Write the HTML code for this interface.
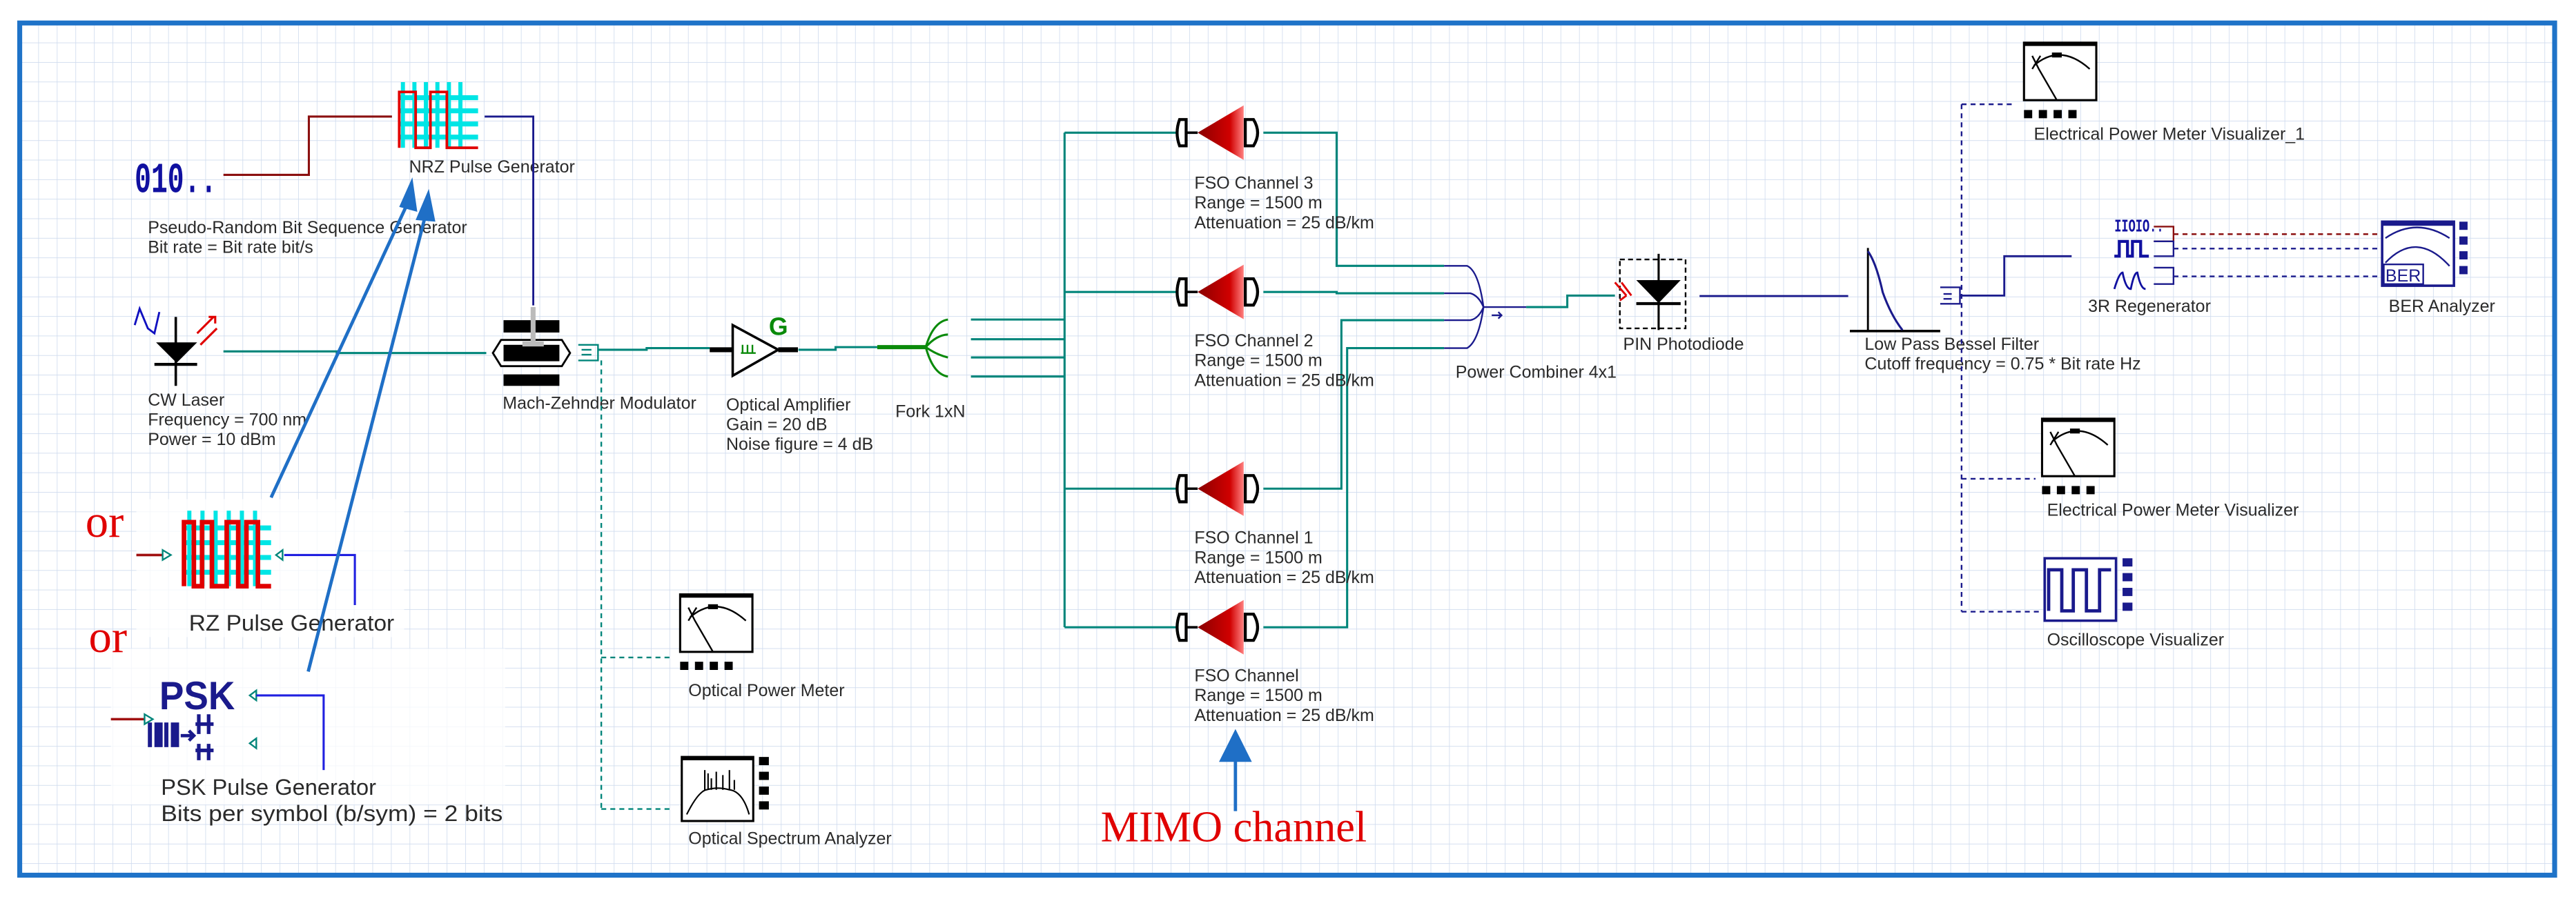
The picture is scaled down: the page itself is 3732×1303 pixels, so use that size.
<!DOCTYPE html>
<html><head><meta charset="utf-8"><style>
html,body{margin:0;padding:0;background:#fff;}
svg{display:block;}
text{font-family:"Liberation Sans",sans-serif;}
.l{font-size:10.5px;fill:#2a2a2a;}
.t{stroke:#00857a;stroke-width:1.3;fill:none;}
.n{stroke:#1a1a8c;stroke-width:1.2;fill:none;}
.dt{stroke:#00857a;stroke-width:1;fill:none;stroke-dasharray:3,2.5;}
.dn{stroke:#1a1a8c;stroke-width:1;fill:none;stroke-dasharray:3,2.5;}
.ba{stroke:#1f6fc6;stroke-width:2;fill:none;}
</style></head><body>
<svg width="3732" height="1303" viewBox="0 0 1568 547.5" preserveAspectRatio="none" xmlns="http://www.w3.org/2000/svg">
<defs>
<pattern id="g" x="12" y="14" width="11.3" height="11.9" patternUnits="userSpaceOnUse">
<path d="M0 0H11.3M0 0V11.9" stroke="#cfdbee" stroke-width="0.7" fill="none"/>
</pattern>
<linearGradient id="rg" x1="0" y1="0" x2="1" y2="0">
<stop offset="0" stop-color="#8a0000"/><stop offset="0.7" stop-color="#d00000"/><stop offset="1" stop-color="#ff8080"/>
</linearGradient>
<g id="fso">
<path d="M722,-8 H718 Q715,0 718,8 H722 Z" fill="#fff" stroke="#000" stroke-width="1.8"/>
<line x1="722" y1="0" x2="729" y2="0" stroke="#000" stroke-width="1.5"/>
<polygon points="729,0 757,-16.6 757,16.6" fill="url(#rg)"/>
<path d="M758,-8 H763 Q768,0 763,8 H758 Z" fill="#fff" stroke="#000" stroke-width="1.8"/>
</g>
<g id="meter">
<rect x="0" y="0" width="44" height="35" fill="#fff" stroke="#000" stroke-width="1.3"/>
<rect x="0" y="0" width="44" height="2" fill="#000"/>
<path d="M6,14 Q22,0 40,16" stroke="#000" stroke-width="1" fill="none"/>
<rect x="17" y="6" width="6" height="3" fill="#000"/>
<path d="M5,8 L9,16 L20,35 M5,16 L10,8" stroke="#000" stroke-width="1" fill="none"/>
<rect x="0" y="41" width="5" height="5" fill="#000"/><rect x="9" y="41" width="5" height="5" fill="#000"/>
<rect x="18" y="41" width="5" height="5" fill="#000"/><rect x="27" y="41" width="5" height="5" fill="#000"/>
</g>
</defs>
<rect x="0" y="0" width="1568" height="547.5" fill="#fff"/>
<rect x="12" y="14" width="1543" height="519" fill="url(#g)"/>
<rect x="12" y="14" width="1543" height="519" fill="none" stroke="#1f73c8" stroke-width="3"/>

<!-- PRBS -->
<text x="82" y="117" style="font-family:'Liberation Mono',monospace;font-weight:bold" font-size="26" fill="#1010a0" textLength="50" lengthAdjust="spacingAndGlyphs">010..</text>
<path d="M136,106.5 H188 V71 H238.6" stroke="#8b1010" stroke-width="1.3" fill="none"/>
<text class="l" x="90" y="142">Pseudo-Random Bit Sequence Generator</text>
<text class="l" x="90" y="154">Bit rate = Bit rate  bit/s</text>
<!-- NRZ -->
<g>
<g fill="#00e5e5">
<rect x="244" y="50" width="2.5" height="40"/><rect x="251" y="50" width="2.5" height="40"/><rect x="258" y="50" width="2.5" height="40"/><rect x="265" y="50" width="2.5" height="40"/><rect x="272" y="50" width="2.5" height="40"/><rect x="279" y="50" width="2.5" height="40"/>
<rect x="243" y="58" width="48" height="3"/><rect x="243" y="66" width="48" height="3"/><rect x="243" y="74" width="48" height="3"/><rect x="243" y="82" width="48" height="3"/>
</g>
<path d="M243,90 V56 H253 V90 H262 V56 H272 V90 H291" stroke="#e00000" stroke-width="1.6" fill="none"/>
</g>
<text class="l" x="249" y="105">NRZ Pulse Generator</text>
<path d="M295,71 H324.6 V186" class="n"/>
<!-- CW laser -->
<path d="M82,198 L85,188 L90,200 L94,203 L97,190" stroke="#1010c0" stroke-width="1.2" fill="none"/>
<line x1="107" y1="193" x2="107" y2="235" stroke="#000" stroke-width="1.5"/>
<polygon points="95,208.5 120,208.5 107.5,221" fill="#000"/>
<rect x="94" y="221" width="26" height="1.8" fill="#000"/>
<path d="M120,203 L130,193 M127,193 H131 V197 M122,210 L132,200" stroke="#e00000" stroke-width="1.3" fill="none"/>
<path d="M136,214 H205 V215 H296" class="t"/>
<text class="l" x="90" y="247">CW Laser</text>
<text class="l" x="90" y="259">Frequency = 700  nm</text>
<text class="l" x="90" y="271">Power = 10  dBm</text>
<!-- MZM -->
<rect x="306.5" y="195" width="34" height="7.5" fill="#000"/>
<path d="M300,215 L305,207 H342 L347,215 L342,223 H305 Z" fill="#fff" stroke="#000" stroke-width="1.2"/>
<rect x="306.5" y="210" width="34" height="10" fill="#000"/>
<rect x="306.5" y="228" width="34" height="7" fill="#000"/>
<rect x="323" y="187" width="3" height="23" fill="#bbb"/>
<rect x="318" y="208" width="13" height="3" fill="#bbb"/>
<path d="M352,210 H364 V219.5 H352 M354,213 H360 M354,216 H360" stroke="#00857a" stroke-width="1" fill="none"/>
<text class="l" x="306" y="249">Mach-Zehnder Modulator</text>
<path d="M364,213 H393.6 V212 H432" class="t"/>
<line x1="366" y1="219.5" x2="366" y2="493" class="dt"/>
<!-- amplifier -->
<rect x="432" y="211.5" width="14" height="3" fill="#000"/>
<polygon points="446,198 446,228.8 473.7,213" fill="#fff" stroke="#000" stroke-width="1.5"/>
<rect x="473.7" y="211.5" width="12" height="3" fill="#000"/>
<text x="468" y="204" font-size="15" style="font-weight:bold" fill="#0a8a0a">G</text>
<path d="M451,215 H460 M452,210 V215 M455,210 V215 M458,210 V215" stroke="#0a8a0a" stroke-width="1" fill="none"/>
<text class="l" x="442" y="250">Optical Amplifier</text>
<text class="l" x="442" y="262">Gain = 20  dB</text>
<text class="l" x="442" y="274">Noise figure = 4  dB</text>
<path d="M486,213 H508.6 V211.4 H534" class="t"/>
<!-- fork -->
<path d="M534,211.4 H563.5" stroke="#0a8a0a" stroke-width="2.5"/>
<path d="M563.5,211.4 Q568,196 577,194.6 M563.5,211.4 Q570,204 577,203.7 M563.5,211.4 Q570,216 577,217.7 M563.5,211.4 Q568,228 577,229.3" stroke="#0a8a0a" stroke-width="1.3" fill="none"/>
<text class="l" x="545" y="254">Fork 1xN</text>
<path d="M591,194.6 H648 M591,206.6 H648 M591,217.7 H648 M591,229.3 H648 M648,80.8 V382 M648,80.8 H716 M648,177.8 H716 M648,297.6 H716 M648,382 H716" class="t"/>
<!-- FSO channels -->
<use href="#fso" transform="translate(0,80.8)"/>
<use href="#fso" transform="translate(0,177.8)"/>
<use href="#fso" transform="translate(0,297.6)"/>
<use href="#fso" transform="translate(0,382)"/>
<path d="M769,80.8 H813.6 V161.9 H879 M769,177.8 H813.6 V178.6 H879 M769,297.6 H816.5 V195 H879 M769,382 H820 V212 H879" class="t"/>
<g class="l">
<text x="727" y="115">FSO Channel  3</text><text x="727" y="127">Range = 1500  m</text><text x="727" y="139">Attenuation = 25  dB/km</text>
<text x="727" y="211">FSO Channel  2</text><text x="727" y="223">Range = 1500  m</text><text x="727" y="235">Attenuation = 25  dB/km</text>
<text x="727" y="331">FSO Channel  1</text><text x="727" y="343">Range = 1500  m</text><text x="727" y="355">Attenuation = 25  dB/km</text>
<text x="727" y="415">FSO Channel</text><text x="727" y="427">Range = 1500  m</text><text x="727" y="439">Attenuation = 25  dB/km</text>
</g>
<!-- combiner -->
<path d="M879,161.9 H893 Q900,165 903,187 M879,178.6 H895 Q900,180 903,187 M879,195 H895 Q900,194 903,187 M879,212 H893 Q900,208 903,187" stroke="#1a1a8c" stroke-width="1" fill="none"/>
<path d="M903,187 H929" stroke="#1a1a8c" stroke-width="1"/>
<path d="M908,192 H914 M912,190 L914,192 L912,194" stroke="#1a1a8c" stroke-width="1" fill="none"/>
<path d="M929,187 H954 V180 H983" class="t"/>
<text class="l" x="886" y="230">Power Combiner 4x1</text>
<!-- PIN -->
<rect x="986" y="158" width="40" height="42" fill="none" stroke="#000" stroke-width="1" stroke-dasharray="3,2"/>
<line x1="1009.6" y1="154.6" x2="1009.6" y2="201" stroke="#000" stroke-width="1.3"/>
<polygon points="996,170.6 1023,170.6 1009.6,184.6" fill="#000"/>
<rect x="996" y="184" width="27" height="1.8" fill="#000"/>
<path d="M983,172 L990,180 M987,172 L993,180 M990,180 L986,183" stroke="#e00000" stroke-width="1.2" fill="none"/>
<text class="l" x="988" y="213">PIN Photodiode</text>
<path d="M1034.5,180.3 H1125" class="n"/>
<!-- Bessel -->
<line x1="1137" y1="151" x2="1137" y2="201.6" stroke="#000" stroke-width="1.2"/>
<line x1="1126" y1="201.6" x2="1181" y2="201.6" stroke="#000" stroke-width="1.5"/>
<path d="M1137,153 Q1142,160 1146,178 Q1151,192 1158,201" stroke="#1a1a8c" stroke-width="1.3" fill="none"/>
<path d="M1181,175 H1193 V185 H1181 M1183,179 H1188 M1183,182 H1188" stroke="#1a1a8c" stroke-width="1" fill="none"/>
<text class="l" x="1135" y="213">Low Pass Bessel Filter</text>
<text class="l" x="1135" y="225">Cutoff frequency = 0.75 * Bit rate  Hz</text>
<path d="M1194,63.5 V372.5 M1194,63.5 H1227 M1194,291.6 H1239 M1194,372.5 H1241" class="dn"/>
<path d="M1193,180 H1220 V156 H1261" class="n"/>
<!-- meters -->
<use href="#meter" transform="translate(1232,26)"/>
<text class="l" x="1238" y="85">Electrical Power Meter Visualizer_1</text>
<use href="#meter" transform="translate(1243,255)"/>
<text class="l" x="1246" y="314">Electrical Power Meter Visualizer</text>
<use href="#meter" transform="translate(414,362)"/>
<text class="l" x="419" y="424">Optical Power Meter</text>
<path d="M366,400.4 H409 M366,492.7 H409" class="dt"/>
<!-- OSA -->
<rect x="415" y="461" width="43.5" height="39" fill="#fff" stroke="#000" stroke-width="1.3"/>
<rect x="415" y="461" width="43.5" height="2" fill="#000"/>
<path d="M418,496 Q425,482 430,481 Q437,479 444,481 Q452,482 456,496 M429,481 V469 M431,481 V471 M433,481 V474 M436,481 V470 M440,481 V472 M444,481 V469 M447,481 V475" stroke="#000" stroke-width="0.9" fill="none"/>
<g fill="#000"><rect x="462" y="461" width="6" height="5"/><rect x="462" y="470" width="6" height="5"/><rect x="462" y="479" width="6" height="5"/><rect x="462" y="488" width="6" height="5"/></g>
<text class="l" x="419" y="514">Optical Spectrum Analyzer</text>
<!-- 3R -->
<text x="1287" y="141" style="font-family:'Liberation Mono',monospace;font-weight:bold" font-size="11" fill="#1010a0" textLength="30" lengthAdjust="spacingAndGlyphs">IIOIO..</text>
<path d="M1287,156 H1290 V147 H1295 V156 H1298 V147 H1303 V156 H1308" stroke="#1010a0" stroke-width="1.8" fill="none"/>
<path d="M1287,176 Q1290,166 1292,166 Q1294,176 1297,176 Q1299,166 1301,166 Q1303,176 1306,176" stroke="#1010a0" stroke-width="1.2" fill="none"/>
<path d="M1311,138 H1323 V147 H1311" stroke="#8b1010" stroke-width="1" fill="none"/>
<path d="M1311,147 H1323 V156 H1311 M1311,163 H1323 V173 H1311" stroke="#1a1a8c" stroke-width="1" fill="none"/>
<text class="l" x="1271" y="190">3R Regenerator</text>
<path d="M1323,142.6 H1447" stroke="#8b1010" stroke-width="1" stroke-dasharray="3,2.5" fill="none"/>
<path d="M1323,151.4 H1447 M1323,168.3 H1447" class="dn"/>
<!-- BER -->
<rect x="1450" y="135" width="43.7" height="39" fill="#fff" stroke="#1a1a8c" stroke-width="1.5"/>
<rect x="1450" y="135" width="43.7" height="2.5" fill="#1a1a8c"/>
<path d="M1452,145 Q1471,132 1491,145 M1452,160 Q1471,140 1491,162" stroke="#1a1a8c" stroke-width="1" fill="none"/>
<rect x="1451" y="161" width="24" height="12" fill="#fff" stroke="#1a1a8c" stroke-width="1"/>
<text x="1452" y="171.5" font-size="10.5" fill="#1a1a8c">BER</text>
<g fill="#1a1a8c"><rect x="1497" y="135" width="5" height="5"/><rect x="1497" y="144" width="5" height="5"/><rect x="1497" y="153" width="5" height="5"/><rect x="1497" y="162" width="5" height="5"/></g>
<text class="l" x="1454" y="190">BER Analyzer</text>
<!-- oscilloscope -->
<rect x="1244.6" y="340" width="43.4" height="38" fill="#fff" stroke="#1a1a8c" stroke-width="1.5"/>
<path d="M1247,372 V347 H1255 V372 H1262 V347 H1270 V372 H1278 V347 H1285" stroke="#1a1a8c" stroke-width="2" fill="none"/>
<g fill="#1a1a8c"><rect x="1292" y="340" width="6" height="5"/><rect x="1292" y="349" width="6" height="5"/><rect x="1292" y="358" width="6" height="5"/><rect x="1292" y="367" width="6" height="5"/></g>
<text class="l" x="1246" y="393">Oscilloscope Visualizer</text>

<!-- RZ block -->
<rect x="83" y="304" width="163" height="84" fill="#fff" opacity="0.75"/>
<g fill="#00e5e5">
<rect x="114" y="311" width="2.5" height="46"/><rect x="122" y="311" width="2.5" height="46"/><rect x="130" y="311" width="2.5" height="46"/><rect x="138" y="311" width="2.5" height="46"/><rect x="146" y="311" width="2.5" height="46"/><rect x="154" y="311" width="2.5" height="46"/>
<rect x="111" y="320" width="54" height="3"/><rect x="111" y="329" width="54" height="3"/><rect x="111" y="338" width="54" height="3"/><rect x="111" y="347" width="54" height="3"/>
</g>
<path d="M112,357 V318 H118 V357 H123 V318 H129 V357 H138 V318 H145 V357 H150 V318 H157 V357 H165" stroke="#e00000" stroke-width="2.8" fill="none"/>
<path d="M83,338 H99" stroke="#a01010" stroke-width="1.5"/>
<path d="M99,335 L104,338 L99,341 Z M168,338 L172,335 V341 Z" fill="#fff" stroke="#00857a" stroke-width="1"/>
<path d="M173,338 H216 V368.5" stroke="#2020e0" stroke-width="1.3" fill="none"/>
<text x="115" y="384" font-size="13.5" fill="#2a2a2a" textLength="125" lengthAdjust="spacingAndGlyphs">RZ Pulse Generator</text>
<!-- PSK block -->
<rect x="67.5" y="395" width="240" height="95" fill="#fff" opacity="0.75"/>
<text x="97" y="432" font-size="24" style="font-weight:bold" fill="#1a1a8c" textLength="46" lengthAdjust="spacingAndGlyphs">PSK</text>
<g fill="#1a1a8c"><rect x="90" y="440" width="2.5" height="15"/><rect x="94" y="440" width="5" height="15"/><rect x="100" y="440" width="2.5" height="15"/><rect x="104" y="440" width="5" height="15"/></g>
<path d="M110,448 H117 M115,445 L118,448 L115,451" stroke="#1a1a8c" stroke-width="2" fill="none"/>
<path d="M121,435 V447 M127,435 V447 M119,441 H130 M121,453 V463 M127,453 V463 M119,457 H130" stroke="#1a1a8c" stroke-width="2.2" fill="none"/>
<path d="M67.5,438 H88" stroke="#a01010" stroke-width="1.5"/>
<path d="M88,435 L93,438 L88,441 Z M152,423.5 L156,420.5 V426.5 Z M152,452.7 L156,449.7 V455.7 Z" fill="#fff" stroke="#00857a" stroke-width="1"/>
<path d="M156,423.5 H197 V469" stroke="#2020e0" stroke-width="1.3" fill="none"/>
<text x="98" y="484" font-size="13.5" fill="#2a2a2a" textLength="131" lengthAdjust="spacingAndGlyphs">PSK Pulse Generator</text>
<text x="98" y="500" font-size="13.5" fill="#2a2a2a" textLength="208" lengthAdjust="spacingAndGlyphs">Bits per symbol (b/sym) = 2  bits</text>

<!-- or labels -->
<text x="52" y="327" style="font-family:'Liberation Serif',serif" font-size="28" fill="#e00000">or</text>
<text x="54" y="397" style="font-family:'Liberation Serif',serif" font-size="28" fill="#e00000">or</text>

<!-- blue annotation arrows -->
<line x1="165" y1="303" x2="248" y2="124" class="ba"/>
<polygon points="251,108 243,126 254,129" fill="#1f6fc6"/>
<line x1="187.6" y1="409" x2="259" y2="131" class="ba"/>
<polygon points="261,115 253,134 265,135" fill="#1f6fc6"/>
<line x1="752" y1="494" x2="752" y2="462" stroke="#1f6fc6" stroke-width="2"/>
<polygon points="752,444 742,464 762,464" fill="#1f6fc6"/>
<text x="670" y="512.5" style="font-family:'Liberation Serif',serif" font-size="26.5" fill="#e00000" textLength="162" lengthAdjust="spacingAndGlyphs">MIMO channel</text>
</svg>
</body></html>
